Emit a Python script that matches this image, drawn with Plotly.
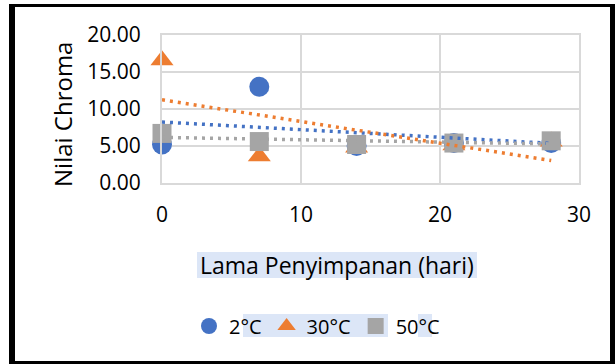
import numpy as np
import plotly.graph_objects as go

# Storage time (days) and measured chroma per storage temperature
days = [0, 7, 14, 21, 28]
chroma_2c = [5.2, 13.0, 5.0, 5.4, 5.4]
chroma_30c = [16.6, 3.6, 4.8, 5.1, 5.6]
chroma_50c = [6.7, 5.6, 5.2, 5.4, 5.7]

series_names = ["2°C", "30°C", "50°C"]
x_ticks = [0, 10, 20, 30]
y_ticks = [0, 5, 10, 15, 20]

W, H = 615, 364
ML, MR, MT, MB = 162, 36, 35, 181
PW, PH = W - ML - MR, H - MT - MB


def px_x(px):
    return (px - ML) / PW


def px_y(py):
    return (H - MB - py) / PH


FONT = "Open Sans"
BLUE, ORANGE, GRAY = "#4472C4", "#ED7D31", "#A5A5A5"

fig = go.Figure()

series = [
    (chroma_2c, BLUE, "circle", 20),
    (chroma_30c, ORANGE, "triangle-up", 20),
    (chroma_50c, GRAY, "square", 19),
]

for (vals, color, sym, size), name in zip(series, series_names):
    fig.add_trace(go.Scatter(
        x=days, y=vals, mode="markers", name=name, cliponaxis=False,
        marker=dict(symbol=sym, size=size, color=color, line=dict(width=0)),
    ))

# Linear trendlines, drawn dotted above the markers
for (vals, color, _, _), name in zip(series, series_names):
    slope, intercept = np.polyfit(days, vals, 1)
    xs = np.array([days[0], days[-1]], dtype=float)
    fig.add_trace(go.Scatter(
        x=xs, y=slope * xs + intercept, mode="lines", showlegend=False,
        line=dict(color=color, width=3.5, dash="3px,5px"), hoverinfo="skip",
    ))

shapes = []
# outer frame
for x0, y0, x1, y1 in [(9, 4, 15, 364), (9, 4, 615, 7), (610, 4, 615, 364), (9, 361, 615, 364)]:
    shapes.append(dict(type="rect", xref="paper", yref="paper",
                       x0=px_x(x0), x1=px_x(x1), y0=px_y(y1), y1=px_y(y0),
                       fillcolor="black", line=dict(width=0), layer="above"))
# light highlight boxes behind the axis title and legend text
HL = "#DCE6F7"
for x0, y0, x1, y1 in [(197, 252, 477, 278), (243, 314, 388, 337), (418, 314, 432, 337)]:
    shapes.append(dict(type="rect", xref="paper", yref="paper",
                       x0=px_x(x0), x1=px_x(x1), y0=px_y(y1), y1=px_y(y0),
                       fillcolor=HL, line=dict(width=0), layer="below"))

annotations = [
    dict(text="Lama Penyimpanan (hari)", xref="paper", yref="paper",
         x=px_x(337), y=px_y(265), xanchor="center", yanchor="middle",
         showarrow=False, font=dict(family=FONT, size=23, color="black")),
    dict(text="Nilai Chroma", xref="paper", yref="paper",
         x=px_x(62), y=px_y(115), xanchor="center", yanchor="middle",
         textangle=-90, showarrow=False,
         font=dict(family=FONT, size=24, color="black")),
]

fig.update_layout(
    width=W, height=H,
    margin=dict(l=ML, r=MR, t=MT, b=MB),
    paper_bgcolor="white", plot_bgcolor="white",
    font=dict(family=FONT, size=21, color="black"),
    shapes=shapes, annotations=annotations,
    showlegend=True,
    legend=dict(orientation="h", x=px_x(189), y=px_y(326), xanchor="left",
                yanchor="middle", bgcolor="rgba(0,0,0,0)",
                font=dict(family=FONT, size=20, color="black")),
)

axis_common = dict(showgrid=True, gridcolor="#D9D9D9", gridwidth=2,
                   showline=True, linecolor="#D9D9D9", linewidth=2, mirror=True,
                   zeroline=False, ticks="", tickfont=dict(family=FONT, size=21, color="black"))

fig.update_xaxes(range=[0, 30], tickvals=x_ticks, ticktext=[str(v) for v in x_ticks],
                 ticklabelstandoff=12, **axis_common)
fig.update_yaxes(range=[0, 20], tickvals=y_ticks, ticktext=[f"{v:.2f}" for v in y_ticks],
                 ticklabelstandoff=15, **axis_common)

fig.write_html("out.html")
